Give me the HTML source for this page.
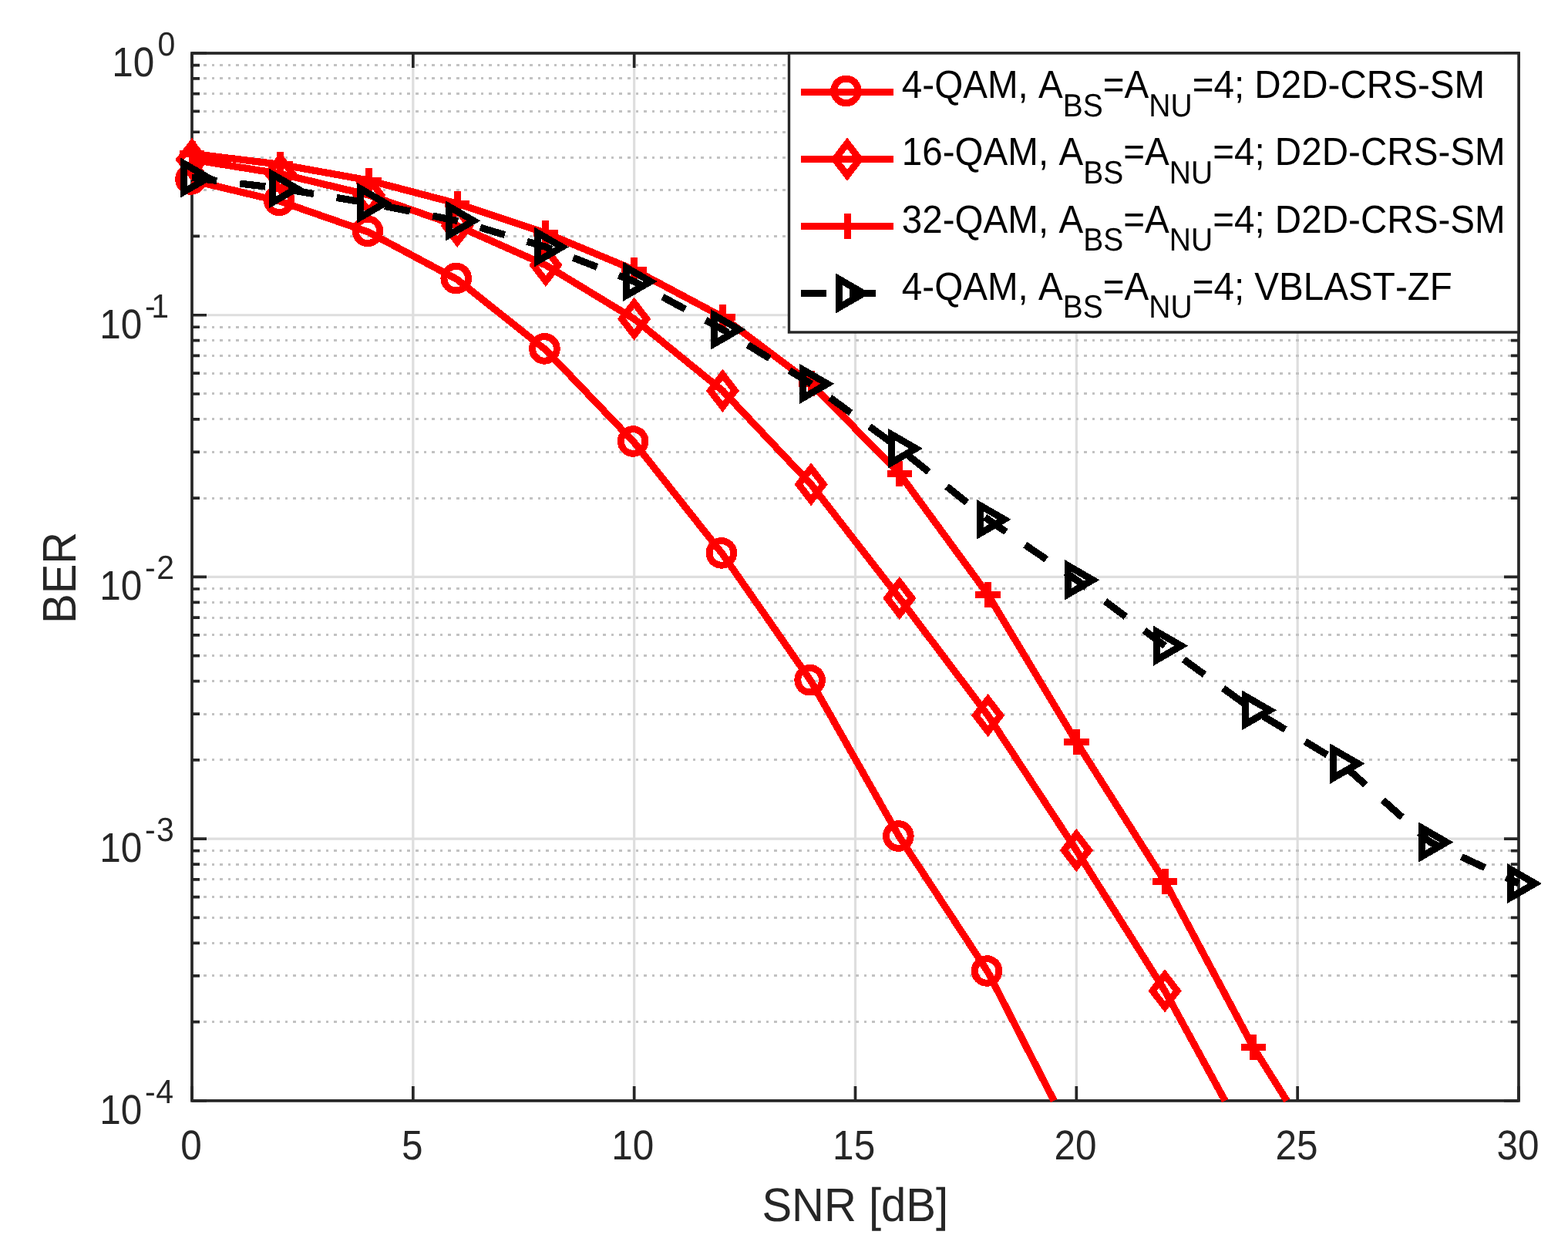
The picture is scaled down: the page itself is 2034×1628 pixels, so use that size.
<!DOCTYPE html>
<html><head><meta charset="utf-8"><title>BER vs SNR</title>
<style>html,body{margin:0;padding:0;background:#fff;overflow:hidden}svg{display:block}text{font-family:"Liberation Sans",Arial,Helvetica,sans-serif;font-kerning:none;white-space:pre}</style>
</head><body>
<svg width="2034" height="1628" viewBox="0 0 2034 1628" text-rendering="geometricPrecision">
<rect x="0" y="0" width="2034" height="1628" fill="#ffffff"/>
<g stroke="#dedede" stroke-width="3.20" fill="none">
<line x1="535.83" y1="69.00" x2="535.83" y2="1427.90"/>
<line x1="822.67" y1="69.00" x2="822.67" y2="1427.90"/>
<line x1="1109.50" y1="69.00" x2="1109.50" y2="1427.90"/>
<line x1="1396.33" y1="69.00" x2="1396.33" y2="1427.90"/>
<line x1="1683.17" y1="69.00" x2="1683.17" y2="1427.90"/>
<line x1="249.00" y1="408.73" x2="1970.00" y2="408.73"/>
<line x1="249.00" y1="748.45" x2="1970.00" y2="748.45"/>
<line x1="249.00" y1="1088.18" x2="1970.00" y2="1088.18"/>
</g>
<g shape-rendering="crispEdges" stroke="#c2c2c2" stroke-width="3.0" stroke-dasharray="3.6 6.975" fill="none">
<line x1="253.5" y1="306.46" x2="1970.00" y2="306.46"/>
<line x1="253.5" y1="246.63" x2="1970.00" y2="246.63"/>
<line x1="253.5" y1="204.19" x2="1970.00" y2="204.19"/>
<line x1="253.5" y1="171.27" x2="1970.00" y2="171.27"/>
<line x1="253.5" y1="144.37" x2="1970.00" y2="144.37"/>
<line x1="253.5" y1="121.62" x2="1970.00" y2="121.62"/>
<line x1="253.5" y1="101.92" x2="1970.00" y2="101.92"/>
<line x1="253.5" y1="84.54" x2="1970.00" y2="84.54"/>
<line x1="253.5" y1="646.18" x2="1970.00" y2="646.18"/>
<line x1="253.5" y1="586.36" x2="1970.00" y2="586.36"/>
<line x1="253.5" y1="543.92" x2="1970.00" y2="543.92"/>
<line x1="253.5" y1="510.99" x2="1970.00" y2="510.99"/>
<line x1="253.5" y1="484.09" x2="1970.00" y2="484.09"/>
<line x1="253.5" y1="461.35" x2="1970.00" y2="461.35"/>
<line x1="253.5" y1="441.65" x2="1970.00" y2="441.65"/>
<line x1="253.5" y1="424.27" x2="1970.00" y2="424.27"/>
<line x1="253.5" y1="985.91" x2="1970.00" y2="985.91"/>
<line x1="253.5" y1="926.08" x2="1970.00" y2="926.08"/>
<line x1="253.5" y1="883.64" x2="1970.00" y2="883.64"/>
<line x1="253.5" y1="850.72" x2="1970.00" y2="850.72"/>
<line x1="253.5" y1="823.82" x2="1970.00" y2="823.82"/>
<line x1="253.5" y1="801.07" x2="1970.00" y2="801.07"/>
<line x1="253.5" y1="781.37" x2="1970.00" y2="781.37"/>
<line x1="253.5" y1="763.99" x2="1970.00" y2="763.99"/>
<line x1="253.5" y1="1325.63" x2="1970.00" y2="1325.63"/>
<line x1="253.5" y1="1265.81" x2="1970.00" y2="1265.81"/>
<line x1="253.5" y1="1223.37" x2="1970.00" y2="1223.37"/>
<line x1="253.5" y1="1190.44" x2="1970.00" y2="1190.44"/>
<line x1="253.5" y1="1163.54" x2="1970.00" y2="1163.54"/>
<line x1="253.5" y1="1140.80" x2="1970.00" y2="1140.80"/>
<line x1="253.5" y1="1121.10" x2="1970.00" y2="1121.10"/>
<line x1="253.5" y1="1103.72" x2="1970.00" y2="1103.72"/>
</g>
<g stroke="#262626" stroke-width="3.70" fill="none" stroke-linecap="butt">
<path d="M249.00 1427.90V1408.90M249.00 69.00V88.00M535.83 1427.90V1408.90M535.83 69.00V88.00M822.67 1427.90V1408.90M822.67 69.00V88.00M1109.50 1427.90V1408.90M1109.50 69.00V88.00M1396.33 1427.90V1408.90M1396.33 69.00V88.00M1683.17 1427.90V1408.90M1683.17 69.00V88.00M1970.00 1427.90V1408.90M1970.00 69.00V88.00M249.00 69.00H268.00M1970.00 69.00H1951.00M249.00 408.73H268.00M1970.00 408.73H1951.00M249.00 748.45H268.00M1970.00 748.45H1951.00M249.00 1088.18H268.00M1970.00 1088.18H1951.00M249.00 1427.90H268.00M1970.00 1427.90H1951.00M249.00 306.46H259.00M1970.00 306.46H1960.00M249.00 246.63H259.00M1970.00 246.63H1960.00M249.00 204.19H259.00M1970.00 204.19H1960.00M249.00 171.27H259.00M1970.00 171.27H1960.00M249.00 144.37H259.00M1970.00 144.37H1960.00M249.00 121.62H259.00M1970.00 121.62H1960.00M249.00 101.92H259.00M1970.00 101.92H1960.00M249.00 84.54H259.00M1970.00 84.54H1960.00M249.00 646.18H259.00M1970.00 646.18H1960.00M249.00 586.36H259.00M1970.00 586.36H1960.00M249.00 543.92H259.00M1970.00 543.92H1960.00M249.00 510.99H259.00M1970.00 510.99H1960.00M249.00 484.09H259.00M1970.00 484.09H1960.00M249.00 461.35H259.00M1970.00 461.35H1960.00M249.00 441.65H259.00M1970.00 441.65H1960.00M249.00 424.27H259.00M1970.00 424.27H1960.00M249.00 985.91H259.00M1970.00 985.91H1960.00M249.00 926.08H259.00M1970.00 926.08H1960.00M249.00 883.64H259.00M1970.00 883.64H1960.00M249.00 850.72H259.00M1970.00 850.72H1960.00M249.00 823.82H259.00M1970.00 823.82H1960.00M249.00 801.07H259.00M1970.00 801.07H1960.00M249.00 781.37H259.00M1970.00 781.37H1960.00M249.00 763.99H259.00M1970.00 763.99H1960.00M249.00 1325.63H259.00M1970.00 1325.63H1960.00M249.00 1265.81H259.00M1970.00 1265.81H1960.00M249.00 1223.37H259.00M1970.00 1223.37H1960.00M249.00 1190.44H259.00M1970.00 1190.44H1960.00M249.00 1163.54H259.00M1970.00 1163.54H1960.00M249.00 1140.80H259.00M1970.00 1140.80H1960.00M249.00 1121.10H259.00M1970.00 1121.10H1960.00M249.00 1103.72H259.00M1970.00 1103.72H1960.00"/>
<rect x="249.00" y="69.00" width="1721.00" height="1358.90" stroke-linejoin="miter"/>
</g>
<polyline shape-rendering="crispEdges" points="249.00,234.00 363.73,261.30 478.47,301.30 593.20,362.60 707.93,453.90 822.67,574.00 937.40,718.90 1052.13,883.70 1166.87,1086.00 1281.60,1261.00 1367.20,1427.90" stroke="#ff0000" stroke-width="9.20" fill="none" stroke-linejoin="round"/>
<g shape-rendering="crispEdges" stroke="#ff0000" stroke-width="9.00" fill="none" stroke-linejoin="miter" stroke-miterlimit="10"><circle cx="247.50" cy="232.50" r="15.8"/><circle cx="362.23" cy="259.80" r="15.8"/><circle cx="476.97" cy="299.80" r="15.8"/><circle cx="591.70" cy="361.10" r="15.8"/><circle cx="706.43" cy="452.40" r="15.8"/><circle cx="821.17" cy="572.50" r="15.8"/><circle cx="935.90" cy="717.40" r="15.8"/><circle cx="1050.63" cy="882.20" r="15.8"/><circle cx="1165.37" cy="1084.50" r="15.8"/><circle cx="1280.10" cy="1259.50" r="15.8"/></g>
<polyline shape-rendering="crispEdges" points="249.00,207.00 363.73,225.40 478.47,253.00 593.20,292.90 707.93,343.90 822.67,413.70 937.40,506.85 1052.13,628.30 1166.87,776.00 1281.60,928.00 1396.33,1103.00 1511.07,1285.35 1589.15,1427.90" stroke="#ff0000" stroke-width="9.20" fill="none" stroke-linejoin="round"/>
<g shape-rendering="crispEdges" stroke="#ff0000" stroke-width="9.00" fill="none" stroke-linejoin="miter" stroke-miterlimit="10"><polygon points="249.00,186.20 265.00,207.00 249.00,227.80 233.00,207.00"/><polygon points="363.73,204.60 379.73,225.40 363.73,246.20 347.73,225.40"/><polygon points="478.47,232.20 494.47,253.00 478.47,273.80 462.47,253.00"/><polygon points="593.20,272.10 609.20,292.90 593.20,313.70 577.20,292.90"/><polygon points="707.93,323.10 723.93,343.90 707.93,364.70 691.93,343.90"/><polygon points="822.67,392.90 838.67,413.70 822.67,434.50 806.67,413.70"/><polygon points="937.40,486.05 953.40,506.85 937.40,527.65 921.40,506.85"/><polygon points="1052.13,607.50 1068.13,628.30 1052.13,649.10 1036.13,628.30"/><polygon points="1166.87,755.20 1182.87,776.00 1166.87,796.80 1150.87,776.00"/><polygon points="1281.60,907.20 1297.60,928.00 1281.60,948.80 1265.60,928.00"/><polygon points="1396.33,1082.20 1412.33,1103.00 1396.33,1123.80 1380.33,1103.00"/><polygon points="1511.07,1264.55 1527.07,1285.35 1511.07,1306.15 1495.07,1285.35"/></g>
<polyline shape-rendering="crispEdges" points="249.00,199.40 363.73,213.30 478.47,234.00 593.20,264.10 707.93,302.20 822.67,350.10 937.40,411.20 1052.13,497.50 1166.87,614.50 1281.60,771.40 1396.33,962.50 1511.07,1143.50 1625.80,1358.50 1669.24,1427.90" stroke="#ff0000" stroke-width="9.20" fill="none" stroke-linejoin="round"/>
<g shape-rendering="crispEdges" stroke="#ff0000" stroke-width="9.00" fill="none" stroke-linejoin="miter" stroke-miterlimit="10"><path d="M232.80 199.40H265.20M249.00 183.00V215.80"/><path d="M347.53 213.30H379.93M363.73 196.90V229.70"/><path d="M462.27 234.00H494.67M478.47 217.60V250.40"/><path d="M577.00 264.10H609.40M593.20 247.70V280.50"/><path d="M691.73 302.20H724.13M707.93 285.80V318.60"/><path d="M806.47 350.10H838.87M822.67 333.70V366.50"/><path d="M921.20 411.20H953.60M937.40 394.80V427.60"/><path d="M1035.93 497.50H1068.33M1052.13 481.10V513.90"/><path d="M1150.67 614.50H1183.07M1166.87 598.10V630.90"/><path d="M1265.40 771.40H1297.80M1281.60 755.00V787.80"/><path d="M1380.13 962.50H1412.53M1396.33 946.10V978.90"/><path d="M1494.87 1143.50H1527.27M1511.07 1127.10V1159.90"/><path d="M1609.60 1358.50H1642.00M1625.80 1342.10V1374.90"/></g>
<polyline shape-rendering="crispEdges" points="249.00,230.50 363.73,244.40 478.47,263.30 593.20,286.40 707.93,320.40 822.67,365.20 937.40,427.40 1052.13,497.90 1166.87,581.80 1281.60,673.80 1396.33,752.30 1511.07,837.70 1625.80,921.30 1740.53,990.60 1855.27,1092.50 1970.00,1146.05" stroke="#000000" stroke-width="9.20" fill="none" stroke-linejoin="round" stroke-dasharray="33.4 30.04" stroke-dashoffset="0.84" stroke-linecap="butt"/>
<g shape-rendering="crispEdges" stroke="#000000" stroke-width="9.00" fill="none" stroke-linejoin="miter" stroke-miterlimit="10"><polygon points="270.10,230.50 238.45,212.20 238.45,248.80"/><polygon points="384.83,244.40 353.18,226.10 353.18,262.70"/><polygon points="499.57,263.30 467.92,245.00 467.92,281.60"/><polygon points="614.30,286.40 582.65,268.10 582.65,304.70"/><polygon points="729.03,320.40 697.38,302.10 697.38,338.70"/><polygon points="843.77,365.20 812.12,346.90 812.12,383.50"/><polygon points="958.50,427.40 926.85,409.10 926.85,445.70"/><polygon points="1073.23,497.90 1041.58,479.60 1041.58,516.20"/><polygon points="1187.97,581.80 1156.32,563.50 1156.32,600.10"/><polygon points="1302.70,673.80 1271.05,655.50 1271.05,692.10"/><polygon points="1417.43,752.30 1385.78,734.00 1385.78,770.60"/><polygon points="1532.17,837.70 1500.52,819.40 1500.52,856.00"/><polygon points="1646.90,921.30 1615.25,903.00 1615.25,939.60"/><polygon points="1761.63,990.60 1729.98,972.30 1729.98,1008.90"/><polygon points="1876.37,1092.50 1844.72,1074.20 1844.72,1110.80"/><polygon points="1991.10,1146.05 1959.45,1127.75 1959.45,1164.35"/></g>
<g>
<text transform="translate(234.24 1504.30) scale(1 1.090)" font-size="49.50" fill="#262626">0</text>
<text transform="translate(521.12 1504.30) scale(1 1.090)" font-size="49.50" fill="#262626">5</text>
<text transform="translate(793.22 1504.30) scale(1 1.090)" font-size="49.50" fill="#262626">10</text>
<text transform="translate(1080.12 1504.30) scale(1 1.090)" font-size="49.50" fill="#262626">15</text>
<text transform="translate(1367.53 1504.30) scale(1 1.090)" font-size="49.50" fill="#262626">20</text>
<text transform="translate(1654.43 1504.30) scale(1 1.090)" font-size="49.50" fill="#262626">25</text>
<text transform="translate(1941.49 1504.30) scale(1 1.090)" font-size="49.50" fill="#262626">30</text>
<text transform="translate(145.13 98.80) scale(1 1.090)" font-size="49.50" fill="#262626">10</text>
<text transform="translate(204.40 72.30) scale(1 1.060)" font-size="41.00" fill="#262626">0</text>
<text transform="translate(129.33 438.53) scale(1 1.090)" font-size="49.50" fill="#262626">10</text>
<text transform="translate(188.08 411.73) scale(1 1.060)" font-size="41.00" fill="#262626">-</text>
<text transform="translate(196.20 411.73) scale(1 1.060)" font-size="41.00" fill="#262626">1</text>
<text transform="translate(129.33 778.25) scale(1 1.090)" font-size="49.50" fill="#262626">10</text>
<text transform="translate(188.08 751.45) scale(1 1.060)" font-size="41.00" fill="#262626">-</text>
<text transform="translate(203.16 751.45) scale(1 1.060)" font-size="41.00" fill="#262626">2</text>
<text transform="translate(129.33 1117.98) scale(1 1.090)" font-size="49.50" fill="#262626">10</text>
<text transform="translate(188.08 1091.18) scale(1 1.060)" font-size="41.00" fill="#262626">-</text>
<text transform="translate(202.90 1091.18) scale(1 1.060)" font-size="41.00" fill="#262626">3</text>
<text transform="translate(129.33 1457.70) scale(1 1.090)" font-size="49.50" fill="#262626">10</text>
<text transform="translate(188.08 1430.90) scale(1 1.060)" font-size="41.00" fill="#262626">-</text>
<text transform="translate(202.30 1430.90) scale(1 1.060)" font-size="41.00" fill="#262626">4</text>
</g>
<text transform="translate(988.38 1584.00) scale(1 1.055)" font-size="58.00" fill="#262626">SNR [dB]</text>
<text transform="translate(98.00 809.06) rotate(-90) scale(1 1.055)" font-size="58.00" fill="#262626">BER</text>
<rect x="1023.50" y="69.00" width="946.50" height="362.00" fill="#ffffff" stroke="#262626" stroke-width="3.4"/>
<text transform="translate(1169.81 127.10) scale(1 1.070)" font-size="47.60" fill="#000000">4-QAM, A</text>
<text transform="translate(1378.75 150.70) scale(1 1.070)" font-size="39.00" fill="#000000">BS</text>
<text transform="translate(1430.78 127.10) scale(1 1.070)" font-size="47.60" fill="#000000">=A</text>
<text transform="translate(1490.33 150.70) scale(1 1.070)" font-size="39.00" fill="#000000">NU</text>
<text transform="translate(1546.66 127.10) scale(1 1.070)" font-size="47.60" fill="#000000">=4; D2D-CRS-SM</text>
<line shape-rendering="crispEdges" x1="1039" y1="119.40" x2="1159" y2="119.40" stroke="#ff0000" stroke-width="9.20"/>
<g shape-rendering="crispEdges" stroke="#ff0000" stroke-width="9.00" fill="none" stroke-linejoin="miter" stroke-miterlimit="10"><circle cx="1097.50" cy="117.90" r="15.8"/></g>
<text transform="translate(1169.81 214.30) scale(1 1.070)" font-size="47.60" fill="#000000">16-QAM, A</text>
<text transform="translate(1405.23 237.90) scale(1 1.070)" font-size="39.00" fill="#000000">BS</text>
<text transform="translate(1457.25 214.30) scale(1 1.070)" font-size="47.60" fill="#000000">=A</text>
<text transform="translate(1516.80 237.90) scale(1 1.070)" font-size="39.00" fill="#000000">NU</text>
<text transform="translate(1573.13 214.30) scale(1 1.070)" font-size="47.60" fill="#000000">=4; D2D-CRS-SM</text>
<line shape-rendering="crispEdges" x1="1039" y1="206.60" x2="1159" y2="206.60" stroke="#ff0000" stroke-width="9.20"/>
<g shape-rendering="crispEdges" stroke="#ff0000" stroke-width="9.00" fill="none" stroke-linejoin="miter" stroke-miterlimit="10"><polygon points="1099.00,185.80 1115.00,206.60 1099.00,227.40 1083.00,206.60"/></g>
<text transform="translate(1169.81 301.60) scale(1 1.070)" font-size="47.60" fill="#000000">32-QAM, A</text>
<text transform="translate(1405.23 325.20) scale(1 1.070)" font-size="39.00" fill="#000000">BS</text>
<text transform="translate(1457.25 301.60) scale(1 1.070)" font-size="47.60" fill="#000000">=A</text>
<text transform="translate(1516.80 325.20) scale(1 1.070)" font-size="39.00" fill="#000000">NU</text>
<text transform="translate(1573.13 301.60) scale(1 1.070)" font-size="47.60" fill="#000000">=4; D2D-CRS-SM</text>
<line shape-rendering="crispEdges" x1="1039" y1="293.50" x2="1159" y2="293.50" stroke="#ff0000" stroke-width="9.20"/>
<g shape-rendering="crispEdges" stroke="#ff0000" stroke-width="9.00" fill="none" stroke-linejoin="miter" stroke-miterlimit="10"><path d="M1082.80 293.50H1115.20M1099.00 277.10V309.90"/></g>
<text transform="translate(1169.81 388.80) scale(1 1.070)" font-size="47.60" fill="#000000">4-QAM, A</text>
<text transform="translate(1378.75 412.40) scale(1 1.070)" font-size="39.00" fill="#000000">BS</text>
<text transform="translate(1430.78 388.80) scale(1 1.070)" font-size="47.60" fill="#000000">=A</text>
<text transform="translate(1490.33 412.40) scale(1 1.070)" font-size="39.00" fill="#000000">NU</text>
<text transform="translate(1546.66 388.80) scale(1 1.070)" font-size="47.60" fill="#000000">=4; VBLAST-ZF</text>
<line shape-rendering="crispEdges" x1="1039" y1="380.50" x2="1159" y2="380.50" stroke="#000000" stroke-width="9.20" stroke-dasharray="33.4 30.04"/>
<g shape-rendering="crispEdges" stroke="#000000" stroke-width="9.00" fill="none" stroke-linejoin="miter" stroke-miterlimit="10"><polygon points="1120.10,380.50 1088.45,362.20 1088.45,398.80"/></g>
</svg></body></html>
